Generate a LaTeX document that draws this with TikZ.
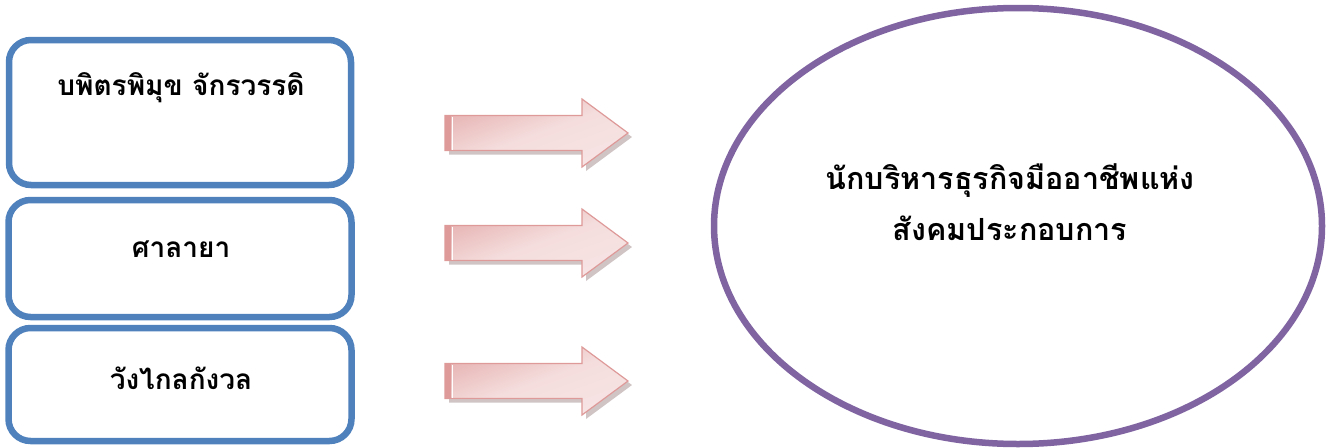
\documentclass[tikz,border=0pt]{standalone}
\usepackage{fontspec}
\newfontfamily\thaifont[Script=Thai]{Loma}
\usetikzlibrary{shapes.geometric,calc}
\definecolor{boxblue}{HTML}{4F81BD}
\definecolor{ellpurple}{HTML}{8064A2}
\definecolor{arrline}{HTML}{DE9A99}
\definecolor{arrdark}{HTML}{E6B3B2}
\definecolor{arrlight}{HTML}{F7E4E4}
\definecolor{arrshadow}{HTML}{A99494}
\tikzset{
  box/.style={draw=boxblue, line width=6.5pt, rounded corners=22pt, fill=white, inner sep=0pt},
  lbl/.style={font=\thaifont\bfseries\fontsize{28}{34}\selectfont, inner sep=0pt, align=center},
  biglbl/.style={font=\thaifont\bfseries\fontsize{30.5}{51}\selectfont, inner sep=0pt, align=center},
  oval/.style={draw=ellpurple, line width=6.5pt, ellipse, inner sep=0pt, fill=white},
  arrbody/.style={draw=arrline, line width=1.2pt, line join=miter, shading=axis, top color=arrdark, bottom color=arrlight, middle color=arrlight!85!arrdark, shading angle=20},
  arrshad/.style={fill=arrshadow, opacity=0.55}
}
\newcommand{\pinkarrow}[1]{%
  \path[arrshad] ($(#1)+(-179,21.5)$) -- ++(137,0) -- ++(0,16.5) -- ($(#1)+(4,4)$) -- ($(#1)+(-42,-29.5)$) -- ++(0,16) -- ++(-137,0) -- cycle;
  \path[arrbody] ($(#1)+(-183,17.5)$) -- ++(137,0) -- ++(0,16.5) -- (#1) -- ($(#1)+(-46,-34)$) -- ++(0,16.5) -- ++(-137,0) -- cycle;
  \fill[arrline] ($(#1)+(-183,17.5)$) rectangle ($(#1)+(-177,-17.5)$);
  \draw[white, line width=0.8pt] ($(#1)+(-175.5,16.5)$) -- ($(#1)+(-175.5,-16.5)$);
}
\begin{document}
\begin{tikzpicture}[x=1pt, y=-1pt]
\useasboundingbox (0,0) rectangle (1329,447);
% boxes
\node[box, minimum width=342pt, minimum height=145pt] (b1) at (180,112.5) {};
\node[box, minimum width=343pt, minimum height=117pt] (b2) at (180,258.5) {};
\node[box, minimum width=343pt, minimum height=113pt] (b3) at (180,384.5) {};
\node[lbl] (t1) at (181,88) {บพิตรพิมุข จักรวรรดิ};
\node[lbl] (t2) at (181,249) {ศาลายา};
\node[lbl] (t3) at (181,378) {วังไกลกังวล};
% arrows
\coordinate (a1) at (628,133);
\coordinate (a2) at (628,243);
\coordinate (a3) at (628,381);
\pinkarrow{a1}
\pinkarrow{a2}
\pinkarrow{a3}
% ellipse
\node[oval, minimum width=608pt, minimum height=436pt] (e) at (1018,226) {};
\node[biglbl] (et) at (1010,202) {นักบริหารธุรกิจมืออาชีพแห่ง\\สังคมประกอบการ};
\end{tikzpicture}
\end{document}
